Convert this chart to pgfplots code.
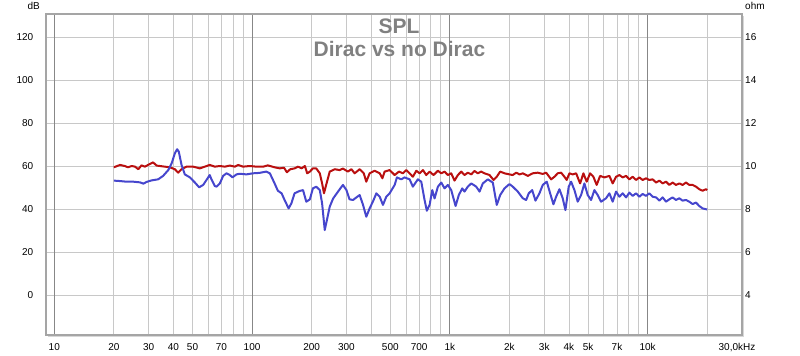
\documentclass[border=0pt]{standalone}
\usepackage{fontspec}
\setmainfont{Liberation Sans}
\usepackage{pgfplots}
\usepackage{pgfplotstable}
\pgfplotsset{compat=1.18}
\definecolor{curvered}{RGB}{185,15,15}
\definecolor{curveblue}{RGB}{70,70,205}
\definecolor{gridlight}{RGB}{200,200,200}
\definecolor{griddark}{RGB}{135,135,135}
\definecolor{framegray}{RGB}{165,165,165}
\definecolor{shadowgray}{RGB}{215,215,215}
\definecolor{titlegray}{RGB}{128,128,128}

\pgfplotstableread{
f dB
20 59.4
21.5 60.5
22.7 60.0
23.6 59.4
24.6 60.0
25.6 59.7
26.6 58.5
27.6 60.3
28.7 59.7
29.8 60.5
31.6 61.7
32.9 60.2
34.2 60.0
36.2 59.7
38.4 59.4
40.7 58.5
42.3 56.9
44.0 58.5
46.6 59.7
50.4 59.7
54.4 58.9
57.7 59.7
61.1 60.5
64.8 59.7
68.7 60.0
72.8 59.7
77.2 60.2
81.8 59.7
85.0 60.5
90.0 59.7
97.4 60.0
105 59.7
114 59.7
120 60.3
130 59.4
138 58.9
145 59.2
150 57.1
156 58.5
164 58.9
171 59.7
178 58.9
185 60.0
190 56.6
196 57.4
203 58.9
211 58.9
220 56.6
226 51.9
231 47.3
238 51.9
247 57.4
262 58.5
277 58.1
288 58.8
305 57.4
318 58.5
330 56.6
350 58.5
367 56.6
378 52.7
393 56.6
417 57.8
442 56.6
456 54.3
468 57.4
496 58.1
526 55.8
553 57.4
579 56.6
602 58.1
626 56.6
650 55.0
677 57.8
703 56.6
731 58.1
760 55.8
790 57.4
827 55.8
870 57.8
905 56.6
940 57.4
977 55.8
1016 56.6
1056 53.2
1098 55.8
1142 57.4
1186 55.8
1233 56.9
1283 56.1
1332 57.7
1385 56.6
1441 57.4
1497 56.6
1587 55.8
1663 53.5
1727 55.0
1797 57.4
1889 56.6
2002 56.1
2080 55.8
2165 56.9
2249 56.1
2337 56.6
2477 55.4
2625 56.6
2783 56.9
2949 56.3
3068 56.9
3252 53.8
3379 55.0
3511 56.6
3653 56.9
3796 55.0
3898 53.5
4022 56.6
4181 56.1
4349 56.6
4556 51.9
4734 56.6
4919 52.7
5118 56.6
5318 55.0
5526 51.2
5749 55.4
6044 54.7
6406 55.4
6657 51.9
6926 55.0
7197 55.8
7478 54.7
7780 55.4
8084 53.8
8400 55.0
8739 53.5
9081 54.7
9435 53.5
9815 54.3
10200 53.5
10600 53.8
11030 52.3
11460 53.2
11910 51.9
12390 52.7
12870 51.2
13370 52.3
13910 51.2
14460 51.9
15020 51.2
15630 52.3
16240 51.2
16880 51.2
17560 50.4
18240 49.2
18950 48.5
19720 49.2
20000 48.8
}\nodirac

\pgfplotstableread{
f dB
20 53.2
21.5 53.0
23.2 52.7
25.1 52.7
27.1 52.4
28.2 51.8
29.3 52.6
31.0 53.3
33.5 53.8
35.5 55.4
37.7 58.1
39.2 61.2
40.7 65.9
41.8 67.8
42.6 66.7
44.0 60.5
45.7 56.1
48.5 54.7
51.4 52.3
54.0 50.1
56.6 51.2
61.1 55.8
62.3 53.8
64.8 50.7
66.1 50.4
68.7 51.9
71.4 55.4
74.2 56.6
77.2 55.8
79.6 54.7
83.4 56.1
86.7 56.4
93.7 56.1
101 56.6
109 56.8
118 57.4
123 56.6
130 51.9
135 48.5
141 47.3
146 44.2
153 40.3
158 42.6
164 47.3
174 48.4
181 48.8
188 43.4
196 44.5
203 49.6
211 50.4
220 48.8
226 42.6
233 30.2
239 34.9
247 41.1
257 44.9
272 48.1
288 51.2
300 48.8
311 44.5
324 44.2
337 45.4
350 46.5
364 41.9
378 36.4
393 40.3
408 43.4
425 47.3
442 45.7
459 41.9
477 45.7
496 47.3
526 51.2
540 54.7
568 53.8
590 54.7
626 53.8
650 50.4
689 53.8
717 52.7
745 44.2
765 39.2
790 41.9
815 48.8
837 44.9
870 50.4
905 52.3
940 49.6
977 51.2
1016 48.8
1069 41.4
1110 46.5
1155 49.6
1186 48.1
1233 50.4
1283 51.9
1359 50.4
1413 48.1
1468 51.9
1556 53.8
1649 52.3
1727 41.9
1797 46.5
1889 49.6
2002 51.6
2080 50.4
2205 48.1
2337 45.0
2431 44.2
2506 47.3
2607 48.8
2709 43.9
2838 47.3
2949 51.2
3090 52.7
3252 45.7
3340 42.2
3446 45.7
3581 49.2
3721 45.0
3840 39.5
3990 50.4
4103 52.7
4264 48.8
4431 43.4
4609 46.5
4789 51.9
4977 46.5
5177 44.2
5380 48.8
5591 46.5
5816 43.4
6165 45.0
6406 47.3
6657 43.4
6926 48.1
7197 45.7
7478 47.3
7780 45.4
8084 47.6
8400 46.1
8739 47.3
9081 45.7
9435 47.0
9815 46.1
10200 47.3
10600 45.7
11030 45.4
11460 43.9
11910 45.4
12390 43.4
12870 44.5
13370 45.4
13910 44.2
14460 45.0
15020 43.9
15630 44.2
16240 43.4
16880 42.3
17560 43.0
18240 41.4
18950 40.3
19720 39.9
20000 39.8
}\dirac

\begin{document}
\begin{tikzpicture}
\useasboundingbox (0,0) rectangle (800bp,356bp);
% soft shadow of the plot frame
\draw[shadowgray, line width=1.6bp] (48bp,19.4bp) -- (743.6bp,19.4bp) -- (743.6bp,340bp);
% right (ohm) axis with the horizontal grid, drawn first
\begin{axis}[
  at={(46bp,21bp)}, anchor=south west, scale only axis,
  width=696bp, height=321bp,
  xmode=log, xmin=9.08, xmax=30000,
  ymin=2.14, ymax=17.07,
  xtick=\empty,
  ytick={4,6,8,10,12,14,16},
  yticklabels={4,6,8,10,12,14,16},
  yticklabel pos=right,
  ymajorgrids,
  major grid style={gridlight, line width=0.8bp},
  major tick length=0pt,
  axis line style={draw=none},
  yticklabel style={font=\fontsize{10bp}{12bp}\selectfont, anchor=west, inner sep=0pt, xshift=3bp},
]
\end{axis}
% main (dB) axis
\begin{axis}[
  at={(46bp,21bp)}, anchor=south west, scale only axis,
  width=696bp, height=321bp,
  xmode=log, xmin=9.08, xmax=30000,
  ymin=-18.6, ymax=130.7,
  xtick={10,100,1000,10000},
  xticklabels={10,100,1k,10k},
  minor xtick={20,30,40,50,60,70,80,90,200,300,400,500,600,700,800,900,2000,3000,4000,5000,6000,7000,8000,9000,20000},
  extra x ticks={20,30,40,50,70,200,300,500,700,2000,3000,4000,5000,7000,30000},
  extra x tick labels={20,30,40,50,70,200,300,500,700,2k,3k,4k,5k,7k,{\hspace*{-10bp}30,0kHz}},
  extra x tick style={grid=none, major tick length=0pt},
  xmajorgrids, xminorgrids,
  major grid style={griddark, line width=0.8bp},
  minor grid style={gridlight, line width=0.8bp},
  ytick={0,20,40,60,80,100,120},
  yticklabels={0,20,40,60,80,100,120},
  major tick length=0pt, minor tick length=0pt,
  axis line style={framegray, line width=1.6bp},
  xticklabel style={font=\fontsize{10bp}{12bp}\selectfont, anchor=north, inner sep=0pt, yshift=-8bp},
  yticklabel style={font=\fontsize{10bp}{12bp}\selectfont, anchor=east, inner sep=0pt, xshift=-12.5bp},
  clip=true,
]
\addplot[curvered, line width=2bp, line join=round] table[x=f, y=dB] {\nodirac};
\addplot[curveblue, line width=2bp, line join=round] table[x=f, y=dB] {\dirac};
\end{axis}
\node[anchor=base east, inner sep=0pt, font=\fontsize{10bp}{12bp}\selectfont] at (40bp,346.7bp) {dB};
\node[anchor=base west, inner sep=0pt, font=\fontsize{10bp}{12bp}\selectfont] at (745bp,346.7bp) {ohm};
\node[anchor=base, inner sep=0pt, text=titlegray, font=\fontsize{21bp}{24bp}\selectfont\bfseries] at (399bp,322.7bp) {SPL};
\node[anchor=base, inner sep=0pt, text=titlegray, font=\fontsize{21bp}{24bp}\selectfont\bfseries] at (399.5bp,299.3bp) {Dirac vs no Dirac};
\end{tikzpicture}
\end{document}
